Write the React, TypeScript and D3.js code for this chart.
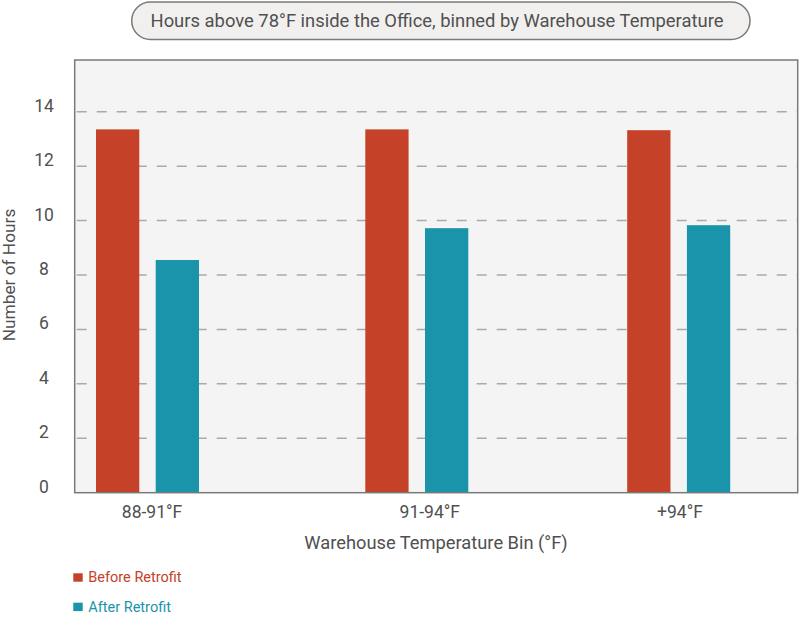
import { useEffect, useRef } from "react";
import * as d3 from "d3";

const categories = ["88-91°F", "91-94°F", "+94°F"];
const seriesNames = ["Before Retrofit", "After Retrofit"];
const beforeRetrofit = [13.35, 13.35, 13.32];
const afterRetrofit = [8.55, 9.72, 9.83];
const yTicks = [0, 2, 4, 6, 8, 10, 12, 14];

const colors = ["#c54127", "#1a94ab"];
const font = "Roboto, 'Noto Sans', sans-serif";
const textColor = "#505050";

export default function App() {
    const svgRef = useRef<SVGSVGElement>(null);
    const width = 800;
    const height = 629;

    useEffect(() => {
        if (!svgRef.current) return;
        const svg = d3.select(svgRef.current);
        svg.selectAll("*").remove();

        // moldura do gráfico
        const frame = { left: 74.7, right: 797.7, top: 60, bottom: 492.7 };

        const y = d3.scaleLinear().domain([0, 14]).range([frame.bottom, 111.7]);
        // os grupos não são igualmente espaçados na imagem original
        const x = d3.scaleOrdinal<string, number>().domain(categories).range([147.5, 416.8, 678.7]);
        const inner = d3
            .scaleBand<string>()
            .domain(seriesNames)
            .range([-51.5, 51.5])
            .paddingInner(0.275);

        const values = [beforeRetrofit, afterRetrofit];

        // fundo
        svg.append("rect")
            .attr("x", frame.left)
            .attr("y", frame.top)
            .attr("width", frame.right - frame.left)
            .attr("height", frame.bottom - frame.top)
            .attr("fill", "#f5f4f4");

        // linhas de grade tracejadas
        svg.append("g")
            .selectAll("line")
            .data(yTicks.filter((d) => d > 0))
            .join("line")
            .attr("x1", frame.left)
            .attr("x2", frame.right)
            .attr("y1", (d) => y(d))
            .attr("y2", (d) => y(d))
            .attr("stroke", "#a9a9a9")
            .attr("stroke-width", 1.5)
            .attr("stroke-dasharray", "10 10")
            .attr("stroke-dashoffset", -2);

        // barras
        seriesNames.forEach((name, si) => {
            svg.append("g")
                .selectAll("rect")
                .data(values[si])
                .join("rect")
                .attr("x", (_, i) => x(categories[i]) + (inner(name) ?? 0))
                .attr("y", (d) => y(d))
                .attr("width", inner.bandwidth())
                .attr("height", (d) => frame.bottom - y(d))
                .attr("fill", colors[si]);
        });

        // borda
        svg.append("rect")
            .attr("x", frame.left)
            .attr("y", frame.top)
            .attr("width", frame.right - frame.left)
            .attr("height", frame.bottom - frame.top)
            .attr("fill", "none")
            .attr("stroke", "#7a7a7a")
            .attr("stroke-width", 1.5);

        // rótulos do eixo y
        svg.append("g")
            .selectAll("text")
            .data(yTicks)
            .join("text")
            .attr("x", 44)
            .attr("y", (d) => y(d))
            .attr("text-anchor", "middle")
            .style("font-family", font)
            .style("font-size", "17.5px")
            .style("fill", textColor)
            .text((d) => d);

        svg.append("text")
            .attr("transform", `translate(15, 275) rotate(-90)`)
            .attr("text-anchor", "middle")
            .style("font-family", font)
            .style("font-size", "17.3px")
            .style("fill", textColor)
            .text("Number of Hours");

        // rótulos do eixo x
        const labelShift = [4.5, 13, 1.3];
        svg.append("g")
            .selectAll("text")
            .data(categories)
            .join("text")
            .attr("x", (d, i) => x(d) + labelShift[i])
            .attr("y", 518.3)
            .attr("text-anchor", "middle")
            .style("font-family", font)
            .style("font-size", "17.5px")
            .style("fill", textColor)
            .text((d) => d);

        svg.append("text")
            .attr("x", 436)
            .attr("y", 549.3)
            .attr("text-anchor", "middle")
            .style("font-family", font)
            .style("font-size", "18.3px")
            .style("fill", textColor)
            .text("Warehouse Temperature Bin (°F)");

        // título
        svg.append("rect")
            .attr("x", 131.7)
            .attr("y", 2)
            .attr("width", 750 - 131.7)
            .attr("height", 37.5)
            .attr("rx", 18.75)
            .attr("fill", "#f1f0ef")
            .attr("stroke", "#7a7a7a")
            .attr("stroke-width", 1.5);

        svg.append("text")
            .attr("x", 437)
            .attr("y", 27.3)
            .attr("text-anchor", "middle")
            .style("font-family", font)
            .style("font-size", "18.4px")
            .style("fill", textColor)
            .text("Hours above 78°F inside the Office, binned by Warehouse Temperature");

        // legenda
        const legend = svg
            .append("g")
            .selectAll("g")
            .data(seriesNames)
            .join("g")
            .attr("transform", (_, i) => `translate(73.3, ${573.3 + i * 29.4})`);

        legend.append("rect")
            .attr("width", 9.4)
            .attr("height", 8.4)
            .attr("fill", (_, i) => colors[i]);

        legend.append("text")
            .attr("x", 15)
            .attr("y", 9)
            .style("font-family", font)
            .style("font-size", "14.5px")
            .style("fill", (_, i) => colors[i])
            .text((d) => d);
    }, []);

    return (
        <svg
            ref={svgRef}
            width={width}
            height={height}
            viewBox={`0 0 ${width} ${height}`}
            style={{ position: "absolute", left: 0, top: 0, background: "#fff" }}
        />
    );
}
